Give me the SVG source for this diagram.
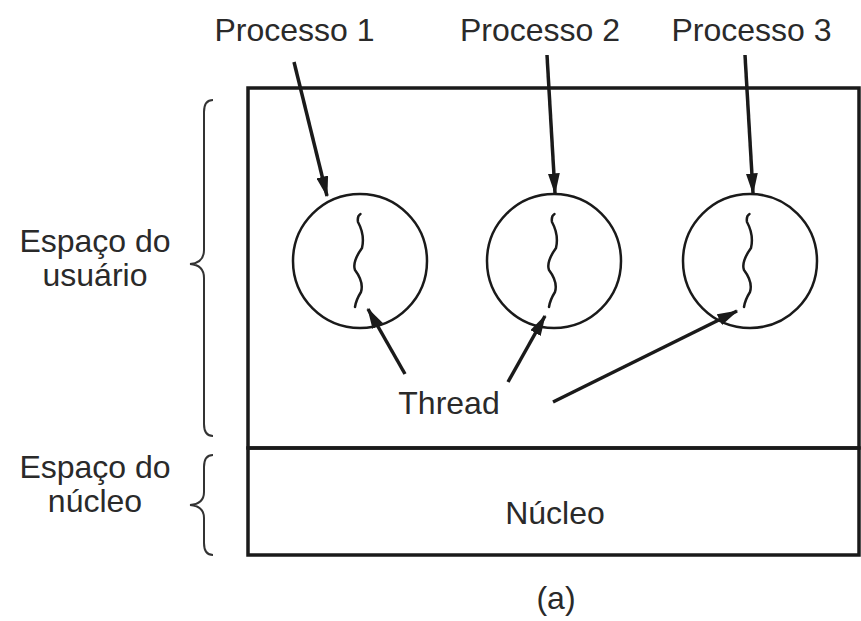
<svg xmlns="http://www.w3.org/2000/svg" width="861" height="621" viewBox="0 0 861 621">
  <defs>
    <style>
      .lbl { font-family: "Liberation Sans", Arial, Helvetica, sans-serif; font-size: 32px; fill: #2a2a2a; text-anchor: middle; }
      .box { fill: none; stroke: #1a1a1a; stroke-width: 3.5; }
      .proc { fill: none; stroke: #1a1a1a; stroke-width: 2.5; }
      .thr { fill: none; stroke: #1a1a1a; stroke-width: 2.5; stroke-linecap: round; }
      .arr { fill: none; stroke: #1a1a1a; stroke-width: 3.5; marker-end: url(#head); }
      .brace { fill: none; stroke: #333; stroke-width: 2; }
    </style>
    <marker id="head" markerWidth="6" markerHeight="3.4" refX="5.6" refY="1.7" orient="auto" markerUnits="strokeWidth">
      <path d="M0,0 L6,1.7 L0,3.4 Z" fill="#1a1a1a"/>
    </marker>
  </defs>
  <rect width="861" height="621" fill="#ffffff"/>

  <!-- system layers -->
  <g id="user-space">
    <rect class="box" x="248" y="88" width="611" height="360"/>
  </g>
  <g id="kernel">
    <rect class="box" x="248" y="448" width="611" height="107"/>
    <text class="lbl" x="555" y="524">Núcleo</text>
  </g>

  <!-- processes, each with a single thread -->
  <g id="process-1">
    <circle class="proc" cx="360" cy="261" r="67"/>
    <path class="thr" d="M360.5,214 Q357,216 358,222 Q365,235 362,248 Q352,262 355,270 Q364,282 361,292 Q356,300 355,307"/>
  </g>
  <g id="process-2">
    <circle class="proc" cx="554" cy="261" r="67"/>
    <path class="thr" d="M554.5,214 Q551,216 552,222 Q559,235 556,248 Q546,262 549,270 Q558,282 555,292 Q550,300 549,307"/>
  </g>
  <g id="process-3">
    <circle class="proc" cx="750" cy="261" r="67"/>
    <path class="thr" d="M749.5,214 Q746,216 747,222 Q754,235 751,248 Q741,262 744,270 Q753,282 750,292 Q745,300 744,307"/>
  </g>

  <!-- labels -->
  <g id="labels">
    <text class="lbl" x="294.5" y="41">Processo 1</text>
    <text class="lbl" x="540" y="41">Processo 2</text>
    <text class="lbl" x="751.5" y="41">Processo 3</text>
    <text class="lbl" x="449" y="414">Thread</text>
    <text class="lbl" x="95" y="252">Espaço do</text>
    <text class="lbl" x="95" y="286">usuário</text>
    <text class="lbl" x="95" y="478">Espaço do</text>
    <text class="lbl" x="95" y="512">núcleo</text>
    <text class="lbl" x="556" y="609">(a)</text>
  </g>

  <!-- braces -->
  <g id="braces">
    <path class="brace" d="M213,100 Q204,100 204,112 L204,250 Q204,263 190,264 Q204,265 204,278 L204,424 Q204,436 213,436"/>
    <path class="brace" d="M213,455 Q204,455 204,467 L204,492 Q204,504 190,505 Q204,506 204,518 L204,543 Q204,555 213,555"/>
  </g>

  <!-- connectors -->
  <g id="connectors">
    <line class="arr" x1="294" y1="62" x2="327" y2="196"/>
    <line class="arr" x1="547" y1="55" x2="555" y2="193"/>
    <line class="arr" x1="745" y1="55" x2="753" y2="193"/>
    <line class="arr" x1="405" y1="374" x2="368" y2="309"/>
    <line class="arr" x1="508" y1="382" x2="545" y2="316"/>
    <line class="arr" x1="553" y1="402" x2="737" y2="311"/>
  </g>
</svg>
